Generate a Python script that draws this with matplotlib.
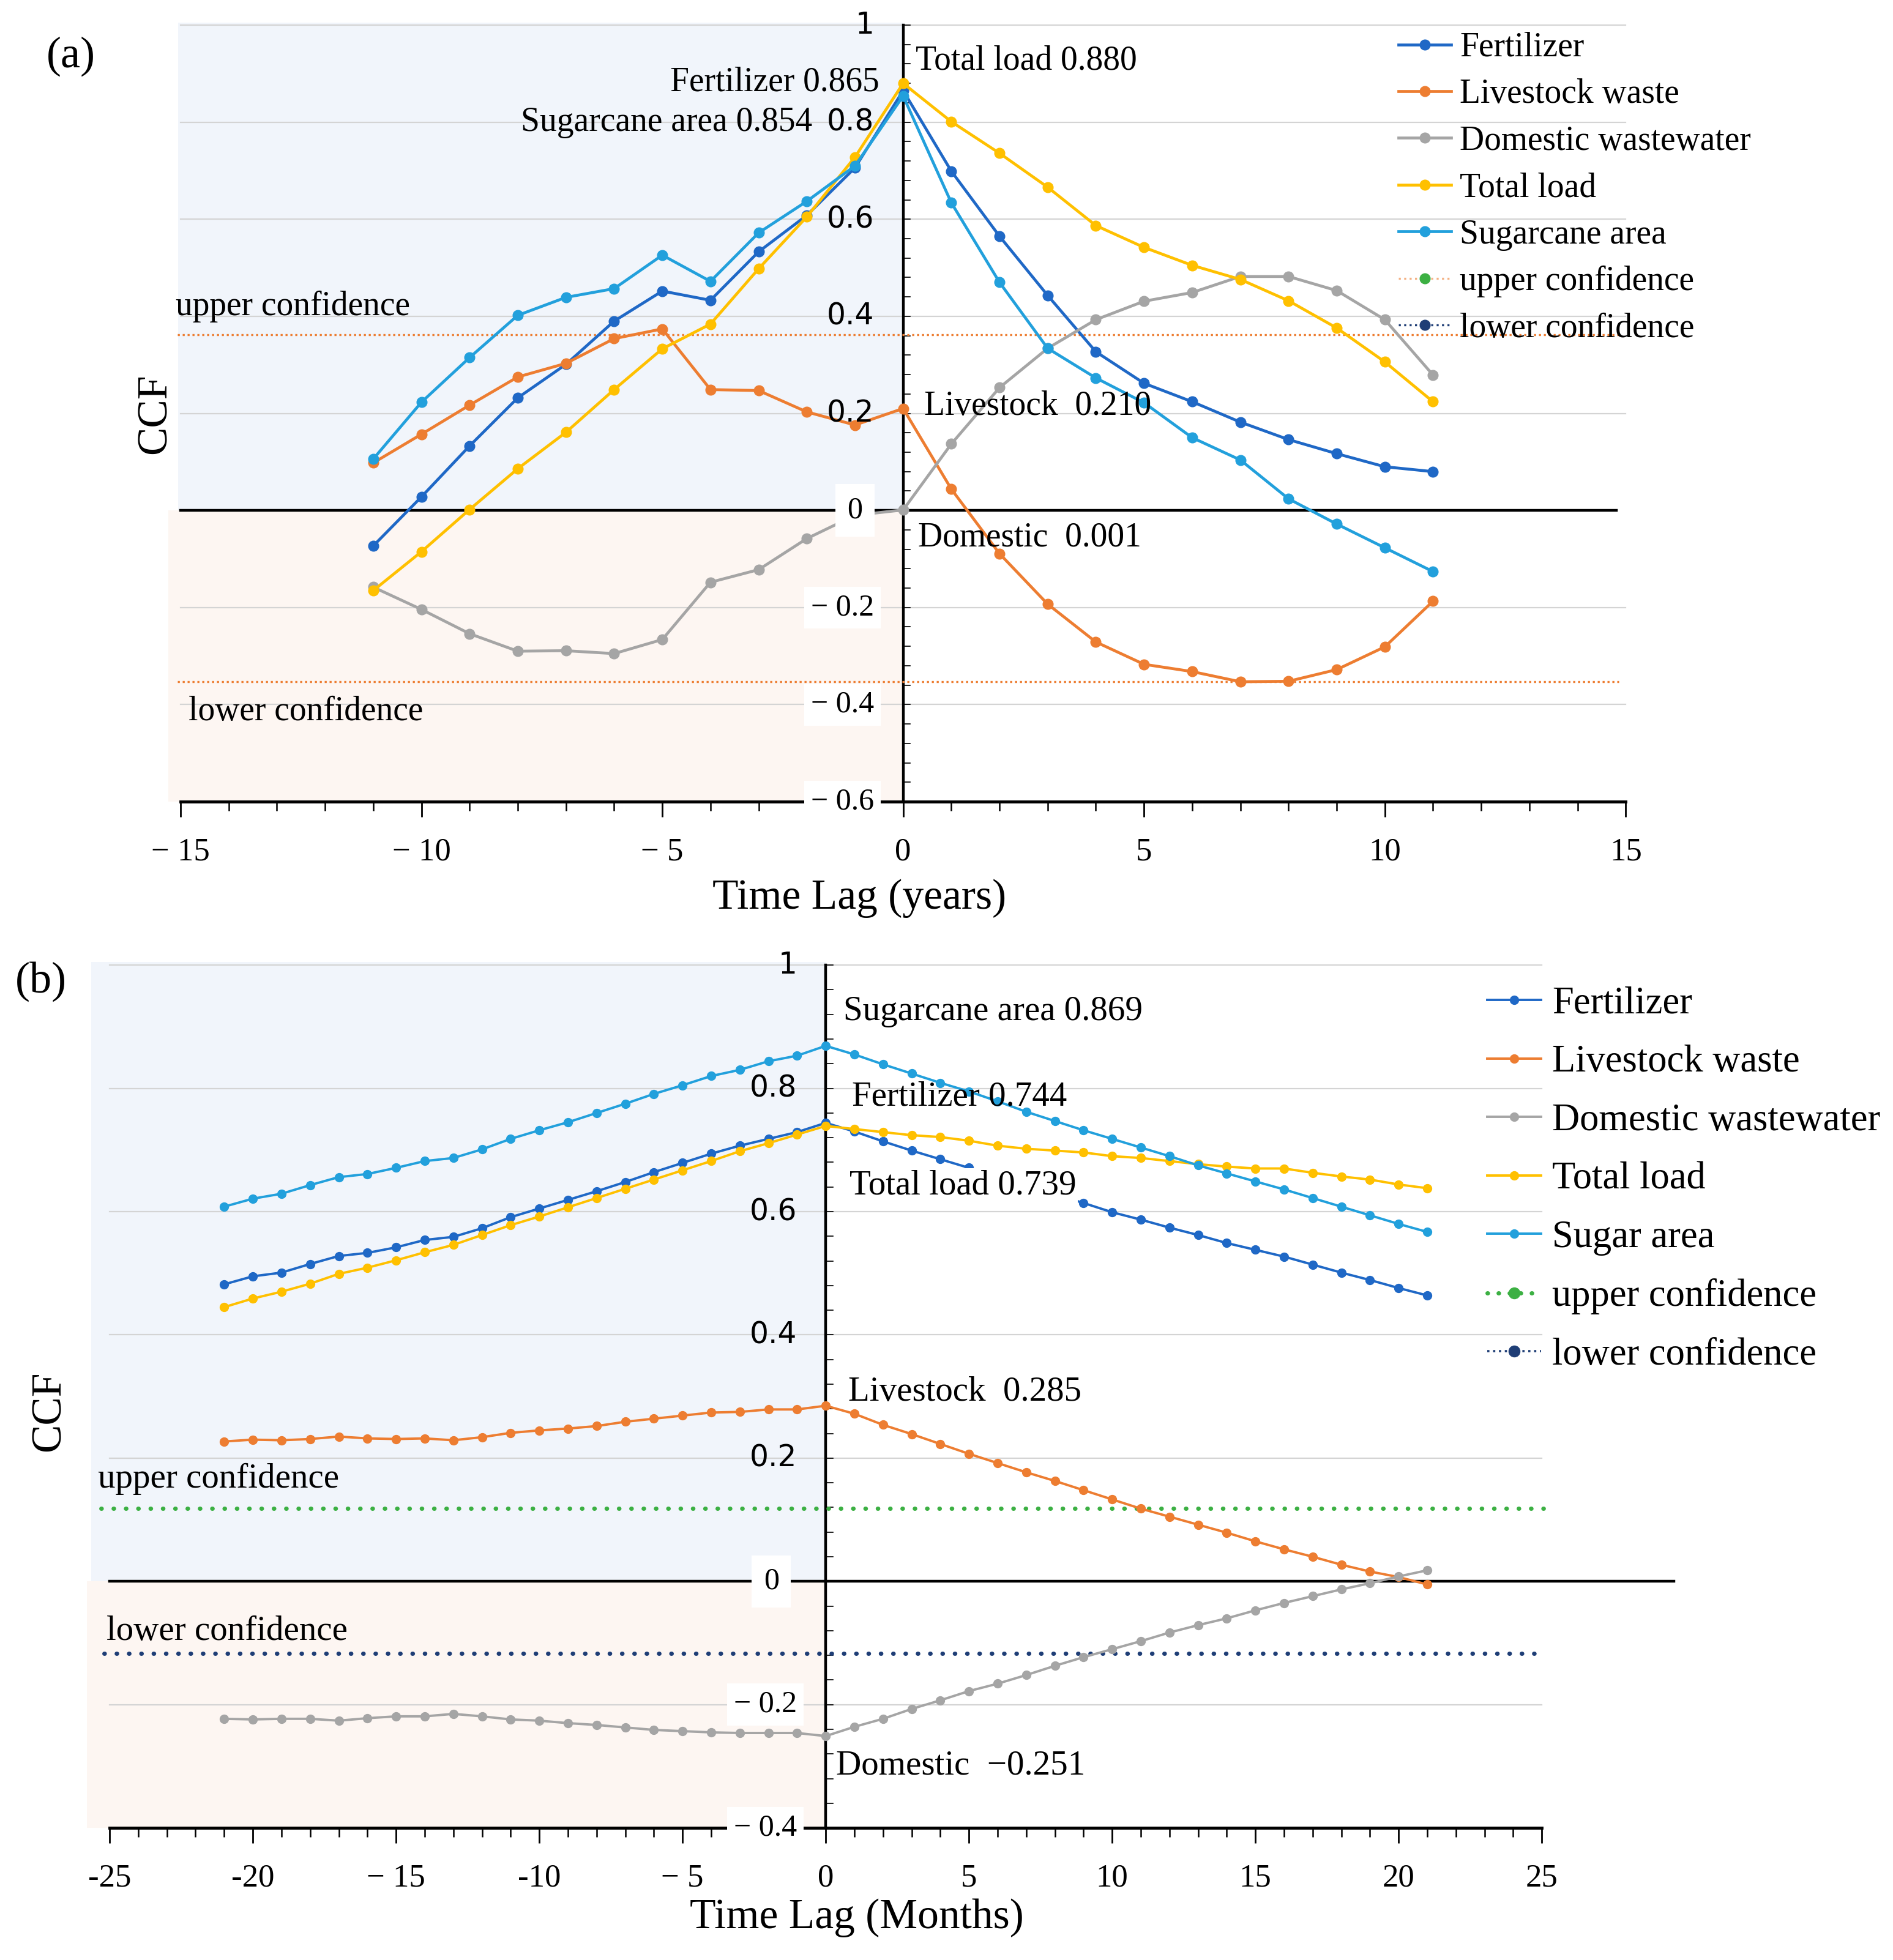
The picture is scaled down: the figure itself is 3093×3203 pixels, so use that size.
import numpy as np
import matplotlib
matplotlib.use("Agg")
import matplotlib.pyplot as plt
from matplotlib.patches import Rectangle
from matplotlib.lines import Line2D

plt.rcParams['font.family'] = ['Liberation Serif', 'DejaVu Serif']

# ------------------------------
# Data
# ------------------------------
lags_a = list(range(-11, 12))
fert_a = [-0.073, 0.028, 0.133, 0.232, 0.301, 0.390, 0.452, 0.433, 0.533, 0.608, 0.706,
          0.865, 0.699, 0.565, 0.443, 0.327, 0.262, 0.224, 0.182, 0.146, 0.117, 0.090, 0.080]
live_a = [0.098, 0.157, 0.217, 0.275, 0.303, 0.354, 0.374, 0.249, 0.247, 0.203, 0.176,
          0.210, 0.044, -0.089, -0.193, -0.271, -0.317, -0.332, -0.353, -0.352, -0.328, -0.281, -0.187]
dom_a = [-0.158, -0.204, -0.254, -0.290, -0.289, -0.295, -0.266, -0.148, -0.122, -0.058, -0.010,
         0.001, 0.137, 0.253, 0.334, 0.393, 0.431, 0.449, 0.482, 0.482, 0.453, 0.393, 0.279]
total_a = [-0.165, -0.085, 0.002, 0.086, 0.161, 0.249, 0.333, 0.384, 0.498, 0.605, 0.728,
           0.880, 0.801, 0.736, 0.666, 0.587, 0.542, 0.505, 0.476, 0.432, 0.376, 0.306, 0.224]
sugar_a = [0.106, 0.223, 0.315, 0.402, 0.439, 0.457, 0.526, 0.472, 0.572, 0.637, 0.710,
           0.854, 0.634, 0.470, 0.334, 0.273, 0.222, 0.150, 0.104, 0.024, -0.028, -0.077, -0.126]
conf_a = (0.362, -0.353)

lags_b = list(range(-21, 22))
fert_b = [0.482, 0.495, 0.501, 0.515, 0.528, 0.533, 0.542, 0.554, 0.559, 0.573, 0.591,
          0.605, 0.619, 0.633, 0.648, 0.664, 0.679, 0.694, 0.707, 0.718, 0.729, 0.744,
          0.730, 0.714, 0.699, 0.685, 0.671, 0.657, 0.643, 0.628, 0.614, 0.599, 0.587,
          0.574, 0.562, 0.549, 0.538, 0.527, 0.514, 0.501, 0.489, 0.476, 0.464]
live_b = [0.227, 0.230, 0.229, 0.231, 0.235, 0.232, 0.231, 0.232, 0.229, 0.234, 0.241,
          0.245, 0.248, 0.252, 0.259, 0.264, 0.269, 0.274, 0.275, 0.279, 0.279, 0.285,
          0.272, 0.254, 0.239, 0.223, 0.207, 0.192, 0.177, 0.163, 0.148, 0.133, 0.118,
          0.105, 0.092, 0.079, 0.065, 0.052, 0.040, 0.027, 0.016, 0.007, -0.005]
dom_b = [-0.223, -0.224, -0.223, -0.223, -0.226, -0.222, -0.219, -0.219, -0.215, -0.219, -0.224,
         -0.226, -0.230, -0.233, -0.237, -0.241, -0.243, -0.245, -0.246, -0.246, -0.246, -0.251,
         -0.236, -0.223, -0.207, -0.193, -0.178, -0.166, -0.152, -0.137, -0.123, -0.110, -0.097,
         -0.083, -0.071, -0.060, -0.047, -0.035, -0.024, -0.013, -0.003, 0.008, 0.018]
total_b = [0.445, 0.459, 0.470, 0.483, 0.499, 0.509, 0.521, 0.534, 0.546, 0.562, 0.578,
           0.592, 0.607, 0.622, 0.637, 0.652, 0.667, 0.682, 0.698, 0.711, 0.725, 0.739,
           0.734, 0.729, 0.724, 0.721, 0.715, 0.707, 0.702, 0.699, 0.696, 0.690, 0.687,
           0.682, 0.677, 0.673, 0.670, 0.670, 0.663, 0.657, 0.652, 0.644, 0.638]
sugar_b = [0.608, 0.621, 0.629, 0.643, 0.656, 0.661, 0.671, 0.682, 0.687, 0.701, 0.718,
           0.732, 0.745, 0.760, 0.775, 0.791, 0.805, 0.820, 0.830, 0.844, 0.853, 0.869,
           0.855, 0.839, 0.824, 0.809, 0.795, 0.779, 0.762, 0.747, 0.732, 0.718, 0.704,
           0.690, 0.675, 0.662, 0.649, 0.636, 0.622, 0.608, 0.594, 0.580, 0.567]
conf_b = (0.118, -0.117)

names_a = ["Fertilizer", "Livestock waste", "Domestic wastewater", "Total load", "Sugarcane area"]
names_b = ["Fertilizer", "Livestock waste", "Domestic wastewater", "Total load", "Sugar area"]
colors = ["#1f68c6", "#ed7d31", "#a5a5a5", "#ffc000", "#22a0dc"]

xticks_a = [-15, -10, -5, 0, 5, 10, 15]
xticklabels_a = ["− 15", "− 10", "− 5", "0", "5", "10", "15"]
yticks_a = [1, 0.8, 0.6, 0.4, 0.2, 0, -0.2, -0.4, -0.6]
yticklabels_a = ["1", "0.8", "0.6", "0.4", "0.2", "0", "− 0.2", "− 0.4", "− 0.6"]

xticks_b = [-25, -20, -15, -10, -5, 0, 5, 10, 15, 20, 25]
xticklabels_b = ["-25", "-20", "− 15", "-10", "− 5", "0", "5", "10", "15", "20", "25"]
yticks_b = [1, 0.8, 0.6, 0.4, 0.2, 0, -0.2, -0.4]
yticklabels_b = ["1", "0.8", "0.6", "0.4", "0.2", "0", "− 0.2", "− 0.4"]

BLUE_BG = "#f1f5fb"
PEACH_BG = "#fdf6f2"
GRID = "#d4d4d4"


def setup_axes(ax, xlim, ylim, xticks, xlabels, yticks, ylabels, ylab_x, zero_lab_x,
               zero_x, shade_x, tick_len):
    xmin, xmax = xlim
    ymin, ymax = ylim
    ax.set_xlim(xmin, xmax)
    ax.set_ylim(ymin, ymax)
    for s in ['top', 'right', 'left']:
        ax.spines[s].set_visible(False)
    ax.spines['bottom'].set_linewidth(3.5)
    ax.spines['bottom'].set_zorder(3)
    ax.patch.set_visible(False)

    # quadrant shading
    ax.add_patch(Rectangle((shade_x[0], 0), -shade_x[0], ymax + 0.005, color=BLUE_BG,
                           zorder=0, clip_on=False, lw=0))
    ax.add_patch(Rectangle((shade_x[1], ymin), -shade_x[1], -ymin, color=PEACH_BG,
                           zorder=0, clip_on=False, lw=0))

    # horizontal gridlines
    for v in yticks:
        if v != 0 and v != ymin:
            ax.plot([xmin, xmax], [v, v], color=GRID, lw=1.6, zorder=1, clip_on=False)

    # zero line and vertical axis through x=0
    ax.plot([xmin, zero_x], [0, 0], color='black', lw=3.2, zorder=2, clip_on=False)
    ax.plot([0, 0], [ymin, ymax], color='black', lw=3.2, zorder=2, clip_on=False)
    for v in np.arange(ymin, ymax + 1e-6, 0.04):
        ax.plot([0, tick_len], [v, v], color='black', lw=1.2, zorder=2, clip_on=False)

    # bottom axis ticks
    ax.set_xticks(xticks)
    ax.set_xticks(np.arange(xmin, xmax + 1), minor=True)
    ax.set_xticklabels(xlabels, fontsize=38)
    ax.tick_params(axis='x', which='major', direction='out', length=18, width=2, pad=24)
    ax.tick_params(axis='x', which='minor', direction='out', length=11, width=1.8)
    ax.set_yticks([])

    # y labels next to the vertical axis
    for v, lab in zip(yticks, ylabels):
        if v > 0:
            ax.text(ylab_x, v, lab, ha='right', va='center', fontsize=35,
                    family='DejaVu Sans', zorder=6, clip_on=False)
        elif v == 0:
            ax.text(zero_lab_x, v, lab, ha='center', va='center', fontsize=36,
                    zorder=6, clip_on=False,
                    bbox=dict(facecolor='white', edgecolor='none', pad=14))
        else:
            ax.text(ylab_x, v, lab, ha='right', va='center', fontsize=36,
                    zorder=6, clip_on=False,
                    bbox=dict(facecolor='white', edgecolor='none', pad=8))


def draw_series(ax, lags, series, lw, ms):
    lines = []
    for vals, c in zip(series, colors):
        ln, = ax.plot(lags, vals, color=c, lw=lw, marker='o', ms=ms, zorder=4, clip_on=False)
        lines.append(ln)
    return lines


fig = plt.figure(figsize=(30.93, 32.03), dpi=100)

# ------------------------------
# Panel (a)
# ------------------------------
ax1 = fig.add_axes([0.0954, 0.591, 0.7634, 0.3962])
setup_axes(ax1, (-15, 15), (-0.6, 1), xticks_a, xticklabels_a, yticks_a, yticklabels_a,
           ylab_x=-0.6, zero_lab_x=-1.0, zero_x=14.8, shade_x=(-15.05, -15.25), tick_len=0.15)
lines_a = draw_series(ax1, lags_a, [fert_a, live_a, dom_a, total_a, sugar_a], lw=3.4, ms=12)
ax1.plot([-15.07, 14.86], [conf_a[0]] * 2, color='#ed7d31', lw=2.4, ls=(0, (1, 1.4)), zorder=3, clip_on=False)
ax1.plot([-15.07, 14.86], [conf_a[1]] * 2, color='#ed7d31', lw=2.4, ls=(0, (1, 1.4)), zorder=3, clip_on=False)

ax1.text(0.26, 0.926, "Total load 0.880", fontsize=40, va='center', ha='left', zorder=6)
ax1.text(-0.49, 0.882, "Fertilizer 0.865", fontsize=40, va='center', ha='right', zorder=6)
ax1.text(-1.89, 0.80, "Sugarcane area 0.854", fontsize=40, va='center', ha='right', zorder=6)
ax1.text(0.44, 0.215, "Livestock  0.210", fontsize=40, va='center', ha='left', zorder=6)
ax1.text(0.31, -0.056, "Domestic  0.001", fontsize=40, va='center', ha='left', zorder=6)
ax1.text(-15.1, 0.42, "upper confidence", fontsize=40, va='center', ha='left', zorder=6, clip_on=False)
ax1.text(-14.84, -0.415, "lower confidence", fontsize=40, va='center', ha='left', zorder=6)

handles_a = lines_a + [
    Line2D([], [], color='#f4b183', ls=':', lw=2.4, marker='o', ms=12, mfc='#3cb043', mec='#3cb043'),
    Line2D([], [], color='#1f3e76', ls=':', lw=2.4, marker='o', ms=12, mfc='#1f3e76', mec='#1f3e76'),
]
fig.legend(handles_a, names_a + ["upper confidence", "lower confidence"],
           loc='upper left', bbox_to_anchor=(2285 / 3093, 1 - 52 / 3203),
           frameon=False, fontsize=40, handlelength=1.55, handletextpad=0.25,
           labelspacing=0.44, borderpad=0, borderaxespad=0)

# ------------------------------
# Panel (b)
# ------------------------------
ax2 = fig.add_axes([0.0579, 0.0674, 0.7566, 0.4402])
setup_axes(ax2, (-25, 25), (-0.4, 1), xticks_b, xticklabels_b, yticks_b, yticklabels_b,
           ylab_x=-1.0, zero_lab_x=-1.9, zero_x=29.6, shade_x=(-25.65, -25.8), tick_len=0.25)
lines_b = draw_series(ax2, lags_b, [fert_b, live_b, dom_b, total_b, sugar_b], lw=2.8, ms=10)
ax2.plot([-25.3, 25.1], [conf_b[0]] * 2, color='#3cb043', lw=5, ls=(0, (0.1, 2.8)),
         dash_capstyle='round', zorder=3, clip_on=False)
ax2.plot([-25.2, 25.1], [conf_b[1]] * 2, color='#1f3e76', lw=5, ls=(0, (0.1, 2.8)),
         dash_capstyle='round', zorder=3, clip_on=False)

ax2.text(0.61, 0.925, "Sugarcane area 0.869", fontsize=41, va='center', ha='left', zorder=6)
ax2.text(0.91, 0.786, "Fertilizer 0.744", fontsize=41, va='center', ha='left', zorder=6)
ax2.text(0.83, 0.642, "Total load 0.739", fontsize=41, va='center', ha='left', zorder=6,
         bbox=dict(facecolor='white', edgecolor='none', pad=2))
ax2.text(0.78, 0.307, "Livestock  0.285", fontsize=41, va='center', ha='left', zorder=6)
ax2.text(0.35, -0.299, "Domestic  −0.251", fontsize=41, va='center', ha='left', zorder=6)
ax2.text(-25.4, 0.166, "upper confidence", fontsize=41, va='center', ha='left', zorder=6, clip_on=False)
ax2.text(-25.1, -0.081, "lower confidence", fontsize=41, va='center', ha='left', zorder=6, clip_on=False)

handles_b = lines_b + [
    Line2D([], [], color='#3cb043', ls=(0, (0.1, 2.5)), dash_capstyle='round', lw=5,
           marker='o', ms=13, mfc='#3cb043', mec='#3cb043'),
    Line2D([], [], color='#1f3e76', ls=':', lw=2.6, marker='o', ms=13, mfc='#1f3e76', mec='#1f3e76'),
]
fig.legend(handles_b, names_b + ["upper confidence", "lower confidence"],
           loc='upper left', bbox_to_anchor=(2430 / 3093, 1 - 1612 / 3203),
           frameon=False, fontsize=45, handlelength=1.4, handletextpad=0.3,
           labelspacing=0.6, borderpad=0, borderaxespad=0)

# ------------------------------
# Labels
# ------------------------------
fig.text(1404 / 3093, 1 - 1468 / 3203, "Time Lag (years)", fontsize=50, ha='center', va='center')
fig.text(1400 / 3093, 1 - 3134 / 3203, "Time Lag (Months)", fontsize=50, ha='center', va='center')
fig.text(254 / 3093, 1 - 676 / 3203, "CCF", fontsize=50, rotation=90, ha='center', va='center')
fig.text(81 / 3093, 1 - 2306 / 3203, "CCF", fontsize=50, rotation=90, ha='center', va='center')
fig.text(116 / 3093, 1 - 92 / 3203, "(a)", fontsize=52, ha='center', va='center')
fig.text(67 / 3093, 1 - 1604 / 3203, "(b)", fontsize=52, ha='center', va='center')

fig.savefig("out.png", dpi=100)
